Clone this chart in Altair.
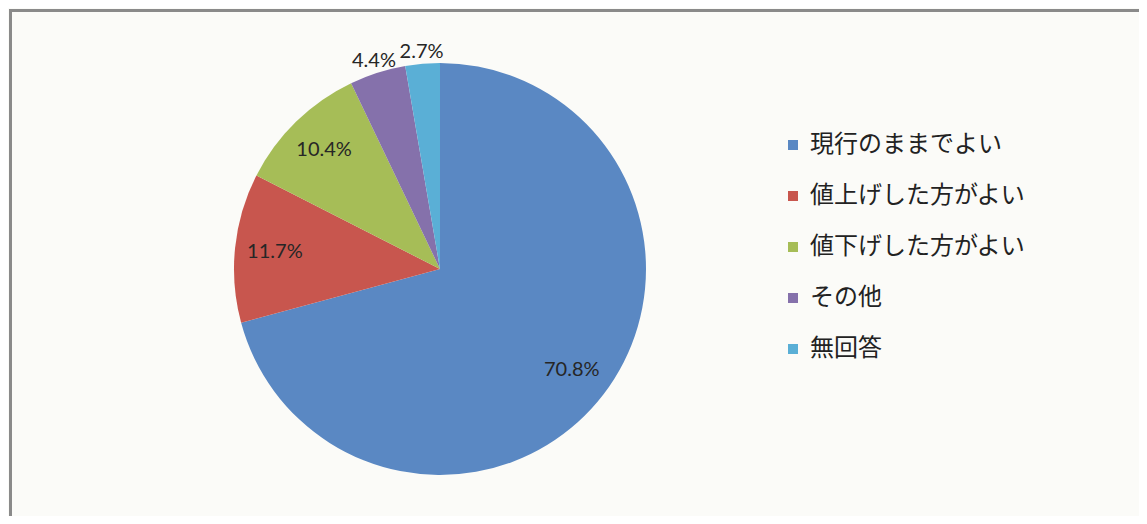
import altair as alt
import pandas as pd

categories = ["現行のままでよい", "値上げした方がよい", "値下げした方がよい", "その他", "無回答"]
values = [70.8, 11.7, 10.4, 4.4, 2.7]
colors = ["#5a88c3", "#c8564e", "#a6bd57", "#8571ab", "#5aafd6"]

df = pd.DataFrame({
    "cat": categories,
    "value": values,
    "idx": list(range(len(categories))),
})

W, H = 1131, 508
cx, cy = 432, 261
theta_scale = alt.Scale(domain=[0, 100])

color = alt.Color(
    "cat:N",
    scale=alt.Scale(domain=categories, range=colors),
    sort=categories,
    legend=alt.Legend(
        title=None, orient="none", legendX=773, legendY=125,
        labelFontSize=24, labelFont="Noto Sans CJK JP", labelColor="#222222",
        symbolType="square", symbolSize=100, symbolStrokeWidth=0,
        rowPadding=27, labelOffset=5, labelLimit=400,
    ),
)

pie = alt.Chart(df).mark_arc(radius=206, stroke=None).encode(
    theta=alt.Theta("value:Q", stack=True, scale=theta_scale),
    order=alt.Order("idx:Q"),
    color=color,
    x=alt.value(cx), y=alt.value(cy),
)

labels = alt.Chart(df).transform_window(
    cum="sum(value)", sort=[alt.SortField("idx")],
).transform_calculate(
    mid="datum.cum - datum.value / 2",
    r="datum.value >= 10 ? 166 : 218",
    lab="format(datum.value, '.1f') + '%'",
).mark_text(font="Lato", fontSize=20, color="#262626").encode(
    theta=alt.Theta("mid:Q", stack=None, scale=theta_scale),
    radius=alt.Radius("r:Q", scale=None),
    text="lab:N",
    x=alt.value(cx), y=alt.value(cy),
)

frame_src = pd.DataFrame({"k": [0]})
left_rule = alt.Chart(frame_src).mark_rule(color="#8a8a8a", strokeWidth=3).encode(
    x=alt.value(2.5), y=alt.value(1), y2=alt.value(H)
)
top_rule = alt.Chart(frame_src).mark_rule(color="#8a8a8a", strokeWidth=3).encode(
    x=alt.value(1), x2=alt.value(W), y=alt.value(2.5)
)

chart = alt.layer(left_rule, top_rule, pie, labels).properties(
    width=W, height=H,
    autosize=alt.AutoSizeParams(type="none"),
    padding=0,
    background="#fbfbf8",
).configure_view(stroke=None)

chart.save("out.html", embed_options={"renderer": "svg", "actions": False})
